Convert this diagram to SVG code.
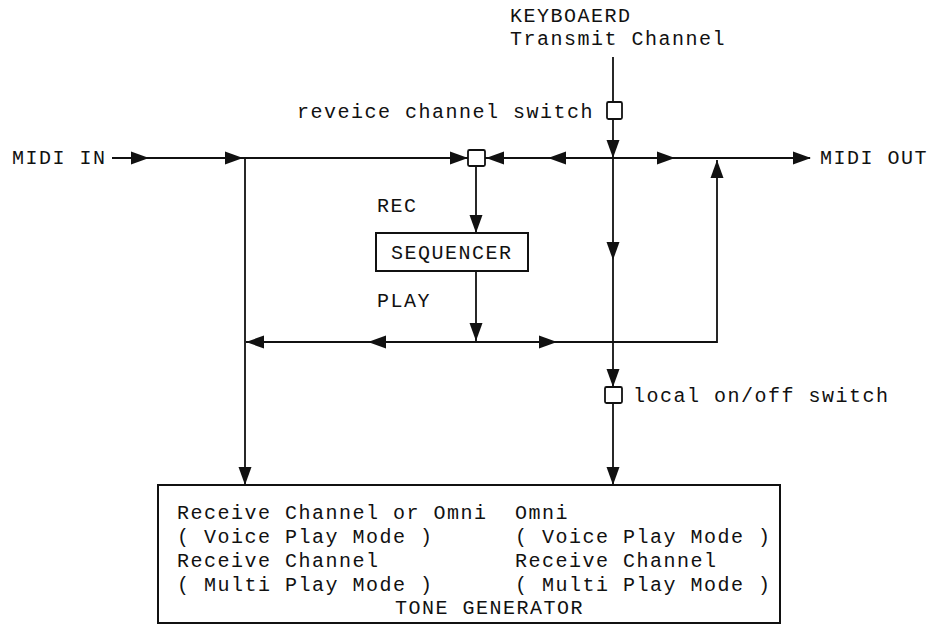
<svg xmlns="http://www.w3.org/2000/svg" width="929" height="628" viewBox="0 0 929 628">
<style>
text{font-family:"Liberation Mono","DejaVu Sans Mono",monospace;font-size:20px;letter-spacing:1.5px;fill:#111}
.ln{stroke:#111;stroke-width:1.8;fill:none}
.bx{stroke:#111;stroke-width:2;fill:#fff}
.sw{stroke:#111;stroke-width:1.8;fill:#fff}
.ah{fill:#111}
</style>
<defs>
<path id="ah" class="ah" d="M0,0 L-18,-6.5 L-18,6.5 Z"/>
</defs>
<rect width="929" height="628" fill="#fff"/>
<g id="connectors">
<line class="ln" x1="112" y1="158" x2="810" y2="158"/>
<line class="ln" x1="613" y1="57" x2="613" y2="485"/>
<line class="ln" x1="245" y1="158" x2="245" y2="485"/>
<line class="ln" x1="476" y1="166" x2="476" y2="233"/>
<line class="ln" x1="476" y1="271" x2="476" y2="342"/>
<polyline class="ln" points="246,342 717,342 717,160"/>
<use href="#ah" transform="translate(149,158)"/>
<use href="#ah" transform="translate(243,158)"/>
<use href="#ah" transform="translate(468,158)"/>
<use href="#ah" transform="translate(486,158) rotate(180)"/>
<use href="#ah" transform="translate(548,158) rotate(180)"/>
<use href="#ah" transform="translate(613,158) rotate(90)"/>
<use href="#ah" transform="translate(675,158)"/>
<use href="#ah" transform="translate(717,160) rotate(-90)"/>
<use href="#ah" transform="translate(811,158)"/>
<use href="#ah" transform="translate(476,233) rotate(90)"/>
<use href="#ah" transform="translate(476,341) rotate(90)"/>
<use href="#ah" transform="translate(246,342) rotate(180)"/>
<use href="#ah" transform="translate(368,342) rotate(180)"/>
<use href="#ah" transform="translate(557,342)"/>
<use href="#ah" transform="translate(613,260) rotate(90)"/>
<use href="#ah" transform="translate(613,387) rotate(90)"/>
<use href="#ah" transform="translate(245,485) rotate(90)"/>
<use href="#ah" transform="translate(613,485) rotate(90)"/>
</g>
<g id="keyboard">
<text x="510" y="22">KEYBOAERD</text>
<text x="510" y="45">Transmit Channel</text>
</g>
<g id="receive-switch">
<rect class="sw" x="607" y="102" width="15" height="17" rx="1.5"/>
<text x="297" y="118">reveice channel switch</text>
</g>
<g id="midi-in"><text x="12" y="164">MIDI IN</text></g>
<g id="midi-out"><text x="820" y="164">MIDI OUT</text></g>
<g id="merge-switch"><rect class="sw" x="468" y="150" width="17" height="16" rx="1.5"/></g>
<g id="sequencer">
<text x="377" y="212">REC</text>
<rect class="bx" x="376" y="233" width="152" height="38"/>
<text x="391" y="259">SEQUENCER</text>
<text x="377" y="307">PLAY</text>
</g>
<g id="local-switch">
<rect class="sw" x="605" y="387" width="17" height="16" rx="1.5"/>
<text x="633" y="402">local on/off switch</text>
</g>
<g id="tone-generator">
<rect class="bx" x="158" y="485" width="622" height="138"/>
<text x="177" y="519">Receive Channel or Omni</text>
<text x="177" y="543">( Voice Play Mode )</text>
<text x="177" y="567">Receive Channel</text>
<text x="177" y="591">( Multi Play Mode )</text>
<text x="515" y="519">Omni</text>
<text x="515" y="543">( Voice Play Mode )</text>
<text x="515" y="567">Receive Channel</text>
<text x="515" y="591">( Multi Play Mode )</text>
<text x="395" y="614">TONE GENERATOR</text>
</g>
</svg>
